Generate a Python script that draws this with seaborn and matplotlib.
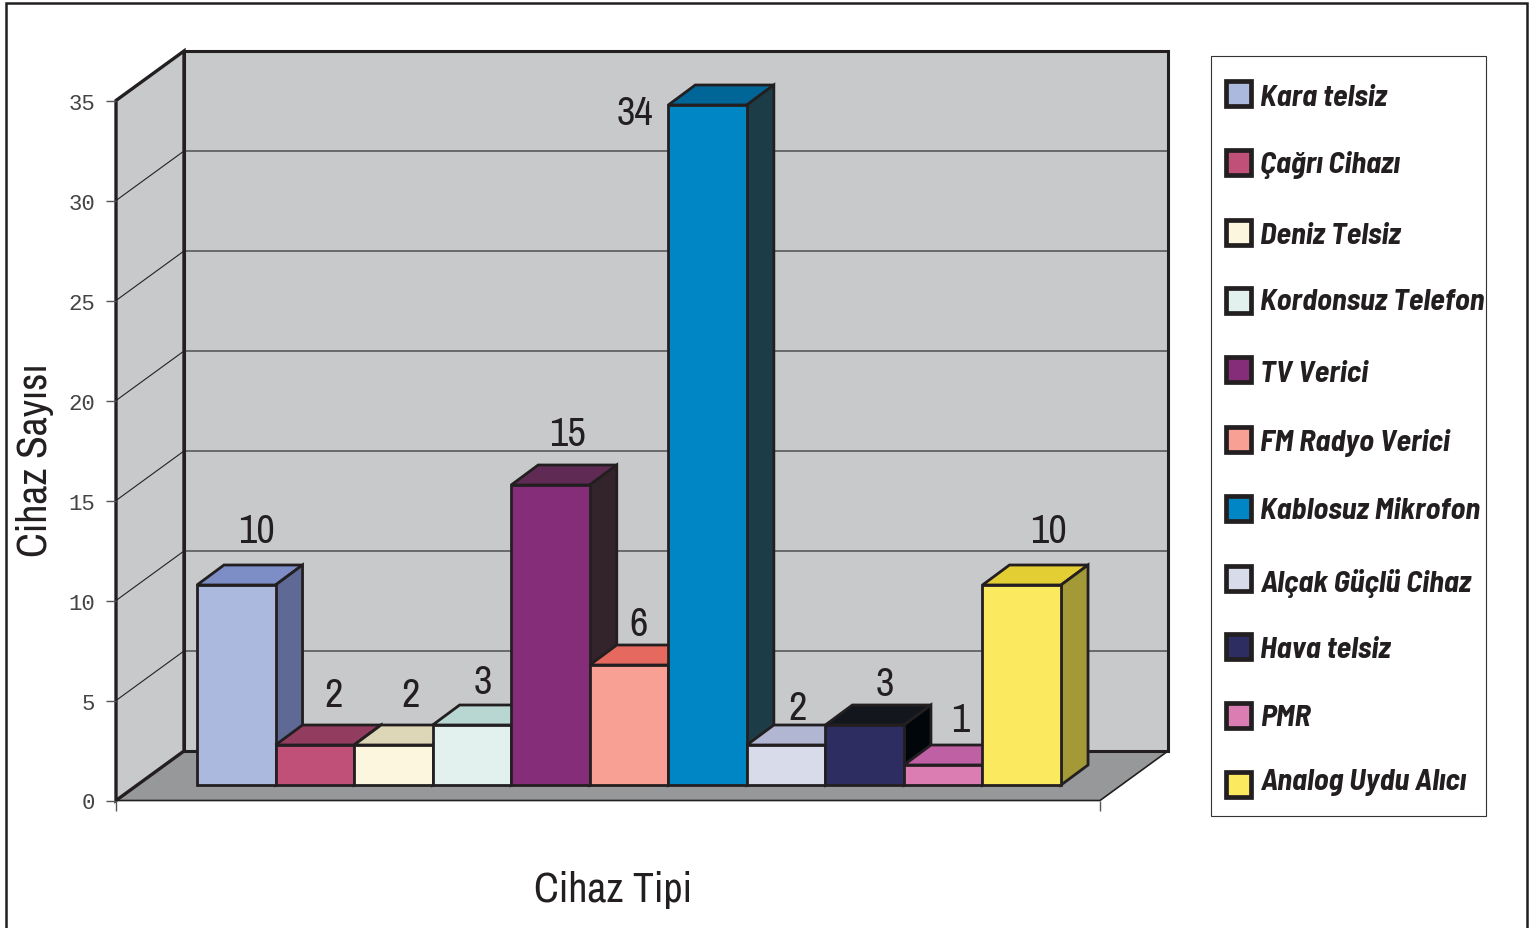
import pandas as pd
import seaborn as sns
import matplotlib.pyplot as plt
from matplotlib.patches import Polygon, Rectangle
from matplotlib.transforms import Affine2D, IdentityTransform

# data
tipler = ["Kara telsiz", "Çağrı Cihazı", "Deniz Telsiz", "Kordonsuz Telefon", "TV Verici",
          "FM Radyo Verici", "Kablosuz Mikrofon", "Alçak Güçlü Cihaz", "Hava telsiz", "PMR",
          "Analog Uydu Alıcı"]
sayilar = [10, 2, 2, 3, 15, 6, 34, 2, 3, 1, 10]
y_ticks = [0, 5, 10, 15, 20, 25, 30, 35]

# colours
on_renk = ["#ABB9DF", "#C05078", "#FDF6DE", "#E2F1EE", "#852D78", "#F9A094",
           "#0085C5", "#D8DCEA", "#2E2D61", "#DB7DB2", "#FBE960"]
ust_renk = ["#7D8DC5", "#923D60", "#DDD7B8", "#B9D7D2", "#5F2B55", "#E5695E",
            "#006697", "#B1B7D3", "#14161E", "#BE60A3", "#E3CE33"]
yan_renk = ["#5E6A95", "#6B2C44", "#A5A085", "#8FA6A2", "#33232A", "#A85F55",
            "#1C3C47", "#8A8EA3", "#01060B", "#8A4875", "#A39937"]
koyu = "#231F20"

# layout, in pixels of the 1536x929 picture
W, H = 1536, 929
on_sol, on_sag, on_alt, on_ust = 116, 1100, 801.5, 101.5
derinlik = (68, 49.5)   # front plane -> back wall
bar_kayma = (22, 15.5)  # front plane -> bar front
bar_derin = (27, 20)    # bar front -> bar back
etiket_dx = [20, 19, 17, 11, 17, 10, -73, 11, 20, 17, 27]
etiket_dy = [70, 66, 66, 59, 67, 57, 8, 53, 57, 61, 70]
swatch_y = [94, 163, 233, 301, 370, 440, 509, 579, 647, 716, 785]
legend_y = [98, 165, 236, 303, 375, 443, 512, 583, 650, 719, 783]
dar = ["Archivo Narrow", "Barlow Condensed", "Liberation Sans"]
dar_kalin = ["Barlow Semi Condensed", "Barlow Condensed", "Liberation Sans"]

df = pd.DataFrame({"tip": tipler, "sayi": sayilar})

fig = plt.figure(figsize=(W / 100, H / 100), dpi=100)
ax = fig.add_axes([on_sol / W, 1 - on_alt / H, (on_sag - on_sol) / W, (on_alt - on_ust) / H])

sns.barplot(data=df, x="tip", y="sayi", hue="tip", palette=on_renk, dodge=False, legend=False,
            width=1, saturation=1, edgecolor=koyu, linewidth=2, ax=ax)
barlar = list(ax.patches)
ax.set_xlim(-1.251, 11.276)
ax.set_ylim(0, 35)
ax.patch.set_visible(False)
sns.despine(ax=ax, left=True, bottom=True)
ax.set_xlabel("")
ax.set_ylabel("")
ax.set_xticks(ax.get_xlim(), labels=["", ""])
ax.set_yticks(y_ticks, labels=[str(t) for t in y_ticks], family="Liberation Mono", fontsize=16, color="#444444")
ax.tick_params(axis="both", length=7, width=1, color="#555555", pad=8)

px = IdentityTransform()


def poly(noktalar, renk, lw=2.0, kenar=koyu, z=1):
    ax.add_patch(Polygon(noktalar, closed=True, facecolor=renk, edgecolor=kenar, linewidth=lw,
                         joinstyle="miter", transform=px, clip_on=False, zorder=z))


def piksel(x, y):
    return ax.transData.transform((x, y))


# walls and floor
x0, x1 = ax.get_xlim()
a = piksel(x0, 0)
b = piksel(x1, 0)
c = piksel(x0, 35)
dv = derinlik
poly([a, a + dv, b + dv, b], "#97989A", lw=1.2, z=1)
poly([a, a + dv, c + dv, c], "#C8C9CB", lw=2.4, z=1)
poly([a + dv, b + dv, (b[0] + dv[0], c[1] + dv[1]), c + dv], "#C8C9CB", lw=2.2, z=1)
for t in y_ticks[1:-1]:
    p = piksel(x0, t)
    q = piksel(x1, t)
    ax.plot([p[0], p[0] + dv[0], q[0] + dv[0]], [p[1], p[1] + dv[1], q[1] + dv[1]],
            color="#222222", lw=0.8, transform=px, clip_on=False, zorder=1.5)

# bars, left to right so each one covers the side of the one before it
for i, bar in enumerate(barlar):
    z = 3 + i
    bar.set_transform(ax.transData + Affine2D().translate(*bar_kayma))
    bar.set_clip_on(False)
    bar.set_zorder(z + 0.5)
    sol = piksel(bar.get_x(), bar.get_height()) + bar_kayma
    sag = piksel(bar.get_x() + bar.get_width(), bar.get_height()) + bar_kayma
    alt = piksel(bar.get_x() + bar.get_width(), 0) + bar_kayma
    poly([sol, sol + bar_derin, sag + bar_derin, sag], ust_renk[i], z=z)
    poly([sag, sag + bar_derin, alt + bar_derin, alt], yan_renk[i], z=z)
    ax.annotate(str(sayilar[i]), xy=(bar.get_x() + bar.get_width() / 2, bar.get_height()),
                xytext=(bar_kayma[0] + etiket_dx[i], etiket_dy[i]),
                textcoords="offset pixels", ha="center", va="center",
                family=dar, fontsize=29, color=koyu, zorder=30, annotation_clip=False)

# axis titles
fig.text(613 / W, 1 - 890 / H, "Cihaz Tipi", family=dar, fontsize=30, color=koyu, ha="center", va="center")
fig.text(35 / W, 1 - 460 / H, "Cihaz Sayısı", family=dar, fontsize=30, color=koyu, ha="center", va="center",
         rotation=90)

# outer frame, runs off the bottom of the picture
fig.add_artist(Rectangle((6, -20), 1521, H - 4 + 20, transform=px, facecolor="none", edgecolor=koyu, linewidth=1.8))

# legend box
fig.add_artist(Rectangle((1211, H - 817), 275, 760, transform=px, facecolor="white", edgecolor="#333333", linewidth=0.8))
for ad_, renk, sy, yy in zip(tipler, on_renk, swatch_y, legend_y):
    fig.add_artist(Rectangle((1226, H - sy - 12.5), 25, 25, transform=px, facecolor=renk, edgecolor=koyu, linewidth=3.4))
    fig.text(1260 / W, 1 - yy / H, ad_, family=dar_kalin, style="italic", weight="bold", fontsize=22,
             color=koyu, ha="left", va="center")

fig.savefig("out.png", dpi=100)
